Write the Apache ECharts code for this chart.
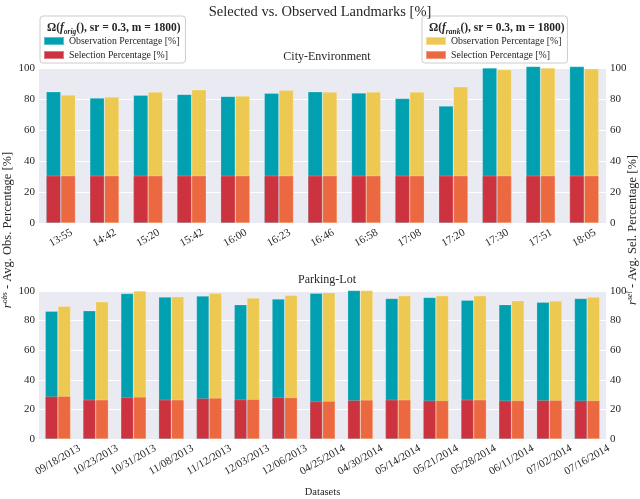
<!DOCTYPE html>
<html>
<head>
<meta charset="utf-8">
<script src="https://cdn.jsdelivr.net/npm/echarts@6/dist/echarts.min.js"></script>
<style>html,body{margin:0;padding:0;background:#fff;}#c{width:640px;height:499px;}</style>
</head>
<body>
<div id="c"></div>
<script>
// ---- data ----
var topCats = ['13:55','14:42','15:20','15:42','16:00','16:23','16:46','16:58','17:08','17:20','17:30','17:51','18:05'];
var topObsOrig = [84.7, 80.6, 82.4, 83.0, 81.7, 83.7, 84.7, 83.9, 80.4, 75.5, 100.0, 101.0, 101.0];
var topObsRank = [82.6, 81.3, 84.5, 86.0, 81.9, 85.6, 84.5, 84.5, 84.5, 87.9, 98.9, 100.0, 99.5];
var topSelOrig = [30.5, 30.5, 30.5, 30.5, 30.5, 30.5, 30.5, 30.5, 30.5, 30.5, 30.5, 30.5, 30.5];
var topSelRank = [30.5, 30.5, 30.5, 30.5, 30.5, 30.5, 30.5, 30.5, 30.5, 30.5, 30.5, 30.5, 30.5];

var botCats = ['09/18/2013','10/23/2013','10/31/2013','11/08/2013','11/12/2013','12/03/2013','12/06/2013','04/25/2014','04/30/2014','05/14/2014','05/21/2014','05/28/2014','06/11/2014','07/02/2014','07/16/2014'];
var botObsOrig = [86.3, 86.7, 98.3, 95.9, 96.6, 90.8, 94.6, 98.5, 100.4, 95.0, 95.7, 93.8, 90.8, 92.5, 95.0];
var botObsRank = [89.7, 92.7, 100.0, 96.1, 98.5, 95.3, 97.2, 98.9, 100.4, 96.8, 96.8, 96.8, 93.5, 93.3, 95.9];
var botSelOrig = [28.8, 26.5, 28.2, 26.5, 27.5, 26.7, 28.2, 25.4, 26.2, 26.5, 26.0, 26.5, 26.0, 26.2, 26.0];
var botSelRank = [28.9, 26.5, 28.4, 26.5, 27.7, 26.8, 28.0, 25.6, 26.4, 26.5, 26.0, 26.5, 26.0, 26.2, 26.0];

var yTicks = [0, 20, 40, 60, 80, 100];
var labelMap = {
  'origObs': 'Observation Percentage [%]',
  'origSel': 'Selection Percentage [%]',
  'rankObs': 'Observation Percentage [%]',
  'rankSel': 'Selection Percentage [%]'
};

var C = {teal: '#00A0B0', red: '#CC333F', yellow: '#EDC951', orange: '#EB6841'};
var FONT = '"Liberation Serif", "DejaVu Serif", serif';
var TXT = '#262626';

var chart = echarts.init(document.getElementById('c'), null, {renderer: 'canvas'});

function xAx(grid, cats, show, margin, name) {
  return {
    type: 'category', gridIndex: grid, data: cats, show: show,
    axisLine: {show: false}, axisTick: {show: false},
    splitLine: {show: false},
    axisLabel: {show: show, rotate: 30, align: 'center', verticalAlign: 'middle', margin: margin,
      fontFamily: FONT, fontSize: 11, color: TXT, interval: 0},
    name: name || '', nameLocation: 'middle', nameGap: 48,
    nameTextStyle: {fontFamily: FONT, fontSize: 10.5, color: TXT}
  };
}
function yAx(grid, pos, split) {
  return {
    type: 'value', gridIndex: grid, position: pos, min: 0, max: 100, interval: 20,
    axisLine: {show: false}, axisTick: {show: false},
    splitLine: {show: split, lineStyle: {color: '#ffffff', width: 1}},
    axisLabel: {margin: 4, fontFamily: FONT, fontSize: 11, color: TXT,
      formatter: function (v) { return yTicks.indexOf(v) >= 0 ? String(v) : ''; }}
  };
}
function bar(name, color, xi, yi, data) {
  return {
    name: name, type: 'bar', xAxisIndex: xi, yAxisIndex: yi, data: data,
    barGap: '0%', barCategoryGap: '33%', clip: false,
    itemStyle: {color: color, borderColor: 'rgba(255,255,255,0.35)', borderWidth: 0.6},
    emphasis: {disabled: true}
  };
}

var headRich = {
  b: {fontFamily: FONT, fontWeight: 'bold', fontSize: 11.5, color: TXT, verticalAlign: 'middle', lineHeight: 15},
  fi: {fontFamily: FONT, fontWeight: 'bold', fontStyle: 'italic', fontSize: 11.5, color: TXT, verticalAlign: 'middle', lineHeight: 15},
  sub: {fontFamily: FONT, fontWeight: 'bold', fontStyle: 'italic', fontSize: 7.5, color: TXT, verticalAlign: 'bottom', lineHeight: 8}
};
var ylabRich = {
  i: {fontFamily: FONT, fontStyle: 'italic', fontSize: 12.5, fill: TXT, verticalAlign: 'middle', lineHeight: 15},
  sup: {fontFamily: FONT, fontStyle: 'italic', fontSize: 8, fill: TXT, verticalAlign: 'top', lineHeight: 8},
  n: {fontFamily: FONT, fontSize: 12.5, fill: TXT, verticalAlign: 'middle', lineHeight: 15}
};

var option = {
  animation: false,
  backgroundColor: '#ffffff',
  title: [
    {text: 'Selected vs. Observed Landmarks [%]', left: 315, top: 0, textAlign: 'center',
      textStyle: {fontFamily: FONT, fontSize: 14.5, fontWeight: 'normal', color: TXT}},
    {text: '{b|Ω(}{fi|f}{sub|orig}{b|(), sr = 0.3, m = 1800)}', left: 42, top: 16, z: 10,
      textStyle: {rich: headRich}},
    {text: '{b|Ω(}{fi|f}{sub|rank}{b|(), sr = 0.3, m = 1800)}', left: 424, top: 16, z: 10,
      textStyle: {rich: headRich}},
    {text: 'City-Environment', left: 322, top: 46, textAlign: 'center',
      textStyle: {fontFamily: FONT, fontSize: 12, fontWeight: 'normal', color: TXT}},
    {text: 'Parking-Lot', left: 322, top: 269, textAlign: 'center',
      textStyle: {fontFamily: FONT, fontSize: 12, fontWeight: 'normal', color: TXT}}
  ],
  legend: [
    {data: ['origObs', 'origSel'], left: 40, top: 16, orient: 'vertical',
      padding: [20, 6, 3, 3], itemGap: 4, itemWidth: 20, itemHeight: 8, icon: 'rect',
      backgroundColor: 'rgba(255,255,255,0.85)', borderColor: '#cccccc', borderWidth: 1, borderRadius: 3,
      formatter: function (n) { return labelMap[n]; },
      textStyle: {fontFamily: FONT, fontSize: 9.8, color: TXT}, selectedMode: false},
    {data: ['rankObs', 'rankSel'], left: 422, top: 16, orient: 'vertical',
      padding: [20, 6, 3, 3], itemGap: 4, itemWidth: 20, itemHeight: 8, icon: 'rect',
      backgroundColor: 'rgba(255,255,255,0.85)', borderColor: '#cccccc', borderWidth: 1, borderRadius: 3,
      formatter: function (n) { return labelMap[n]; },
      textStyle: {fontFamily: FONT, fontSize: 9.8, color: TXT}, selectedMode: false}
  ],
  grid: [
    {left: 39, top: 68, width: 567, height: 155, show: true, backgroundColor: '#EAEAF2', borderWidth: 0},
    {left: 39, top: 291, width: 567, height: 155, show: true, backgroundColor: '#EAEAF2', borderWidth: 0}
  ],
  xAxis: [
    xAx(0, topCats, true, 15),
    xAx(0, topCats, false, 15),
    xAx(1, botCats, true, 21, 'Datasets'),
    xAx(1, botCats, false, 21)
  ],
  yAxis: [
    yAx(0, 'left', true),
    yAx(0, 'right', false),
    yAx(1, 'left', true),
    yAx(1, 'right', false)
  ],
  series: [
    bar('origObs', C.teal, 0, 0, topObsOrig),
    bar('rankObs', C.yellow, 0, 0, topObsRank),
    bar('origSel', C.red, 1, 1, topSelOrig),
    bar('rankSel', C.orange, 1, 1, topSelRank),
    bar('origObs', C.teal, 2, 2, botObsOrig),
    bar('rankObs', C.yellow, 2, 2, botObsRank),
    bar('origSel', C.red, 3, 3, botSelOrig),
    bar('rankSel', C.orange, 3, 3, botSelRank)
  ],
  graphic: [
    {type: 'text', x: 8, y: 230, rotation: Math.PI / 2,
      style: {text: '{i|r}{sup|obs}{n| - Avg. Obs. Percentage [%]}', align: 'center', verticalAlign: 'middle',
        rich: ylabRich}},
    {type: 'text', x: 633, y: 230, rotation: Math.PI / 2,
      style: {text: '{i|r}{sup|sel}{n| - Avg. Sel. Percentage [%]}', align: 'center', verticalAlign: 'middle',
        rich: ylabRich}}
  ]
};
chart.setOption(option);
</script>
</body>
</html>
